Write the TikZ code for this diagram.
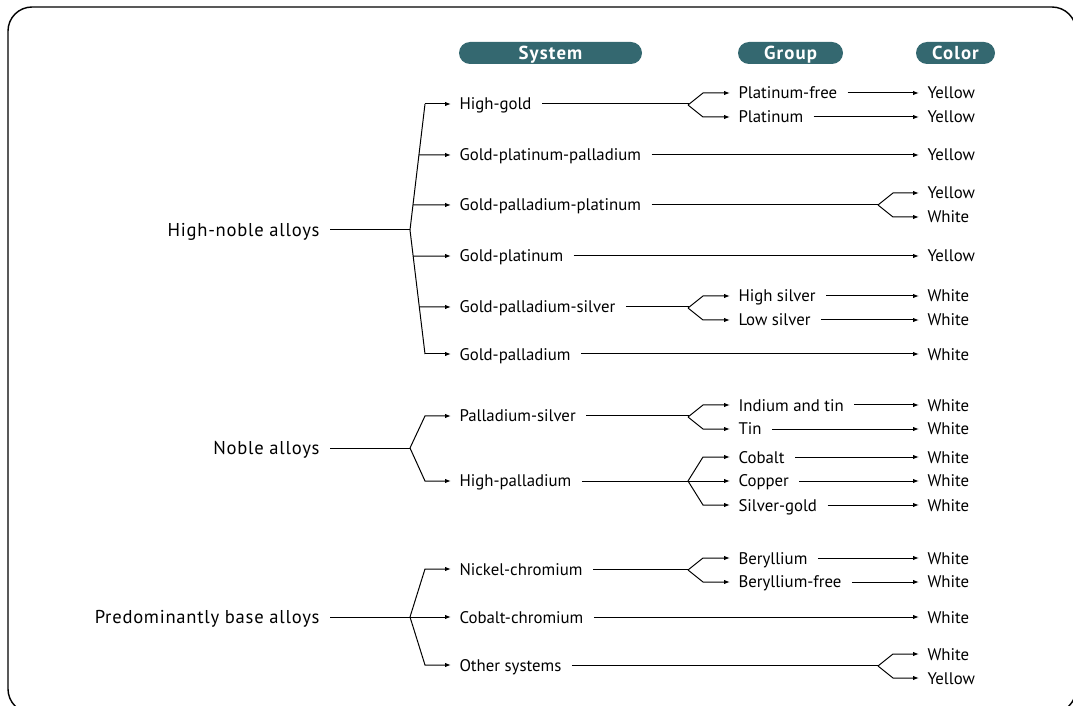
\documentclass[tikz,border=0pt]{standalone}
\usepackage{fontspec}
\setmainfont{PT Sans}
\usetikzlibrary{arrows.meta}
\definecolor{pillcol}{RGB}{52,104,112}

\tikzset{
  lbl/.style={inner xsep=2pt, inner ysep=1pt, text height=6pt, text depth=0pt,
    font=\fontsize{8.4}{10}\selectfont},
  cls/.style={inner xsep=2pt, inner ysep=1pt, text height=6.6pt, text depth=0pt,
    font=\fontsize{9.3}{11}\selectfont\addfontfeatures{LetterSpace=4}},
  pill/.style={fill=pillcol, text=white, rounded corners=5.5pt, minimum height=11pt,
    inner sep=0pt, text height=6.6pt, text depth=0pt,
    font=\fontsize{9.4}{10}\selectfont\bfseries\addfontfeatures{LetterSpace=6}},
  arr/.style={-{Latex[length=3pt,width=2.2pt]}, shorten >=2pt},
  lnk/.style={shorten <=3pt},
}

\begin{document}
\begin{tikzpicture}[x=0.5pt,y=-0.5pt,line width=0.5pt]
\useasboundingbox (0,0) rectangle (1073,706);
\draw[line width=0.7pt,rounded corners=12pt] (8,7) rectangle (1076,713);
% headers
\node[pill,minimum width=91.5pt] (hdsys) at (550.5,53) {System};
\node[pill,minimum width=52.5pt] (hdgrp) at (790.5,53) {Group};
\node[pill,minimum width=39.5pt] (hdcol) at (955.5,53) {Color};
% alloy classes
\node[cls,anchor=east] (hnob) at (324,230) {High-noble alloys};
\node[cls,anchor=east] (nob) at (324,448) {Noble alloys};
\node[cls,anchor=east] (base) at (324,617) {Predominantly base alloys};
% systems
\node[lbl,anchor=west] (hgold) at (455,104) {High-gold};
\node[lbl,anchor=west] (gpp) at (455,155) {Gold-platinum-palladium};
\node[lbl,anchor=west] (gpdpt) at (455,205) {Gold-palladium-platinum};
\node[lbl,anchor=west] (gpt) at (455,256) {Gold-platinum};
\node[lbl,anchor=west] (gpds) at (455,307) {Gold-palladium-silver};
\node[lbl,anchor=west] (gpd) at (455,354) {Gold-palladium};
\node[lbl,anchor=west] (pds) at (455,416) {Palladium-silver};
\node[lbl,anchor=west] (hpd) at (455,481) {High-palladium};
\node[lbl,anchor=west] (nicr) at (455,569) {Nickel-chromium};
\node[lbl,anchor=west] (cocr) at (455,617) {Cobalt-chromium};
\node[lbl,anchor=west] (other) at (455,665) {Other systems};
% groups
\node[lbl,anchor=west] (ptfree) at (734,93) {Platinum-free};
\node[lbl,anchor=west] (pt) at (734,117) {Platinum};
\node[lbl,anchor=west] (hisil) at (734,296) {High silver};
\node[lbl,anchor=west] (losil) at (734,320) {Low silver};
\node[lbl,anchor=west] (intin) at (734,405) {Indium and tin};
\node[lbl,anchor=west] (tin) at (734,429) {Tin};
\node[lbl,anchor=west] (cob) at (734,457) {Cobalt};
\node[lbl,anchor=west] (cop) at (734,481) {Copper};
\node[lbl,anchor=west] (silg) at (734,505) {Silver-gold};
\node[lbl,anchor=west] (be) at (734,558) {Beryllium};
\node[lbl,anchor=west] (befree) at (734,582) {Beryllium-free};
% colors
\node[lbl,anchor=west] (c1) at (923,93) {Yellow};
\node[lbl,anchor=west] (c2) at (923,117) {Yellow};
\node[lbl,anchor=west] (c3) at (923,155) {Yellow};
\node[lbl,anchor=west] (c4) at (923,193) {Yellow};
\node[lbl,anchor=west] (c5) at (923,217) {White};
\node[lbl,anchor=west] (c6) at (923,256) {Yellow};
\node[lbl,anchor=west] (c7) at (923,296) {White};
\node[lbl,anchor=west] (c8) at (923,320) {White};
\node[lbl,anchor=west] (c9) at (923,354) {White};
\node[lbl,anchor=west] (c10) at (923,405) {White};
\node[lbl,anchor=west] (c11) at (923,429) {White};
\node[lbl,anchor=west] (c12) at (923,457) {White};
\node[lbl,anchor=west] (c13) at (923,481) {White};
\node[lbl,anchor=west] (c14) at (923,505) {White};
\node[lbl,anchor=west] (c15) at (923,558) {White};
\node[lbl,anchor=west] (c16) at (923,582) {White};
\node[lbl,anchor=west] (c17) at (923,617) {White};
\node[lbl,anchor=west] (c18) at (923,654) {White};
\node[lbl,anchor=west] (c19) at (923,678) {Yellow};
% class forks
\coordinate (fa) at (410,230);
\coordinate (fat) at (425,104);
\coordinate (fab) at (425,354);
\draw[lnk] (hnob.east) -- (fa);
\draw (fat) -- (fa) -- (fab);
\draw[arr] (fat) -- (hgold);
\draw[arr] (intersection of fa--fat and gpp.west--gpp.east) -- (gpp);
\draw[arr] (intersection of fa--fat and gpdpt.west--gpdpt.east) -- (gpdpt);
\draw[arr] (intersection of fa--fab and gpt.west--gpt.east) -- (gpt);
\draw[arr] (intersection of fa--fab and gpds.west--gpds.east) -- (gpds);
\draw[arr] (fab) -- (gpd);
\coordinate (fb) at (410,448);
\draw[lnk] (nob.east) -- (fb);
\draw[arr] (fb) -- (425,416) -- (pds);
\draw[arr] (fb) -- (425,481) -- (hpd);
\coordinate (fc) at (410,617);
\draw[lnk] (base.east) -- (fc);
\draw[arr] (fc) -- (425,569) -- (nicr);
\draw[arr] (fc) -- (cocr);
\draw[arr] (fc) -- (425,665) -- (other);
% system forks
\coordinate (fhg) at (688,105);
\draw[lnk] (hgold.east) -- (hgold.east -| fhg) -- (fhg);
\draw[arr] (fhg) -- +(15,-12) -- (ptfree);
\draw[arr] (fhg) -- +(15,12) -- (pt);
\coordinate (fgs) at (688,308);
\draw[lnk] (gpds.east) -- (gpds.east -| fgs) -- (fgs);
\draw[arr] (fgs) -- +(15,-12) -- (hisil);
\draw[arr] (fgs) -- +(15,12) -- (losil);
\coordinate (fps) at (688,417);
\draw[lnk] (pds.east) -- (pds.east -| fps) -- (fps);
\draw[arr] (fps) -- +(15,-12) -- (intin);
\draw[arr] (fps) -- +(15,12) -- (tin);
\coordinate (fhp) at (688,481);
\draw[lnk] (hpd.east) -- (fhp);
\draw[arr] (fhp) -- +(15,-24) -- (cob);
\draw[arr] (fhp) -- (cop);
\draw[arr] (fhp) -- +(15,24) -- (silg);
\coordinate (fnc) at (688,570);
\draw[lnk] (nicr.east) -- (nicr.east -| fnc) -- (fnc);
\draw[arr] (fnc) -- +(15,-12) -- (be);
\draw[arr] (fnc) -- +(15,12) -- (befree);
\coordinate (fgd) at (878,205);
\draw[lnk] (gpdpt.east) -- (fgd);
\draw[arr] (fgd) -- +(15,-12) -- (c4);
\draw[arr] (fgd) -- +(15,12) -- (c5);
\coordinate (fos) at (878,666);
\draw[lnk] (other.east) -- (other.east -| fos) -- (fos);
\draw[arr] (fos) -- +(15,-12) -- (c18);
\draw[arr] (fos) -- +(15,12) -- (c19);
% straight to color
\draw[lnk,arr] (gpp.east) -- (c3);
\draw[lnk,arr] (gpt.east) -- (c6);
\draw[lnk,arr] (gpd.east) -- (c9);
\draw[lnk,arr] (cocr.east) -- (c17);
% groups to color
\draw[lnk,arr] (ptfree.east) -- (c1);
\draw[lnk,arr] (pt.east) -- (c2);
\draw[lnk,arr] (hisil.east) -- (c7);
\draw[lnk,arr] (losil.east) -- (c8);
\draw[lnk,arr] (intin.east) -- (c10);
\draw[lnk,arr] (tin.east) -- (c11);
\draw[lnk,arr] (cob.east) -- (c12);
\draw[lnk,arr] (cop.east) -- (c13);
\draw[lnk,arr] (silg.east) -- (c14);
\draw[lnk,arr] (be.east) -- (c15);
\draw[lnk,arr] (befree.east) -- (c16);
\end{tikzpicture}
\end{document}
